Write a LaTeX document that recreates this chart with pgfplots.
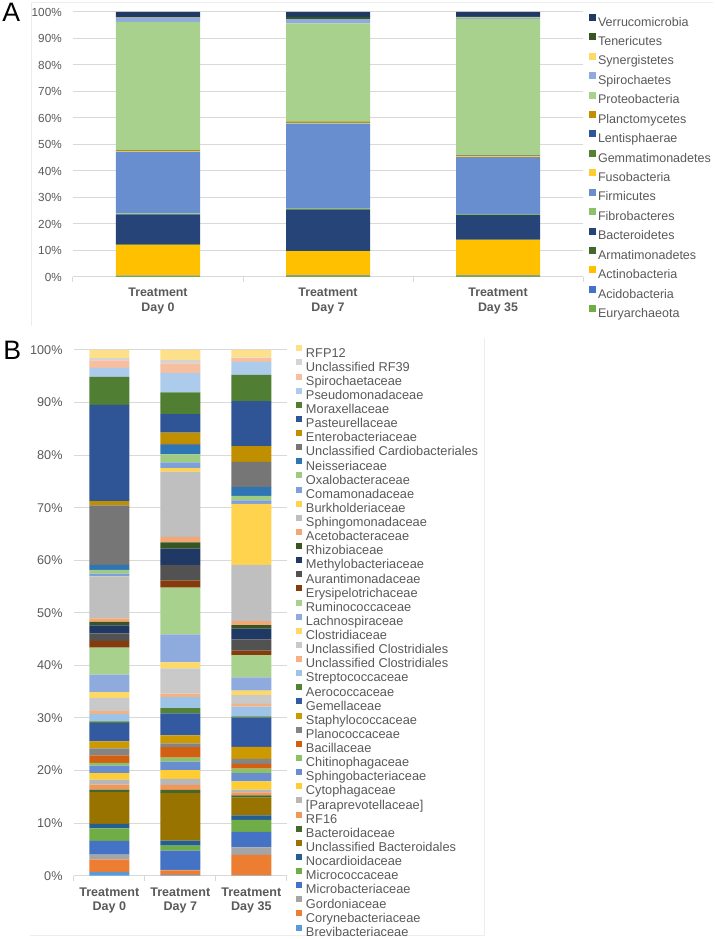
\documentclass[border=0pt]{standalone}
\usepackage{pgfplots}
\pgfplotsset{compat=1.18}
\usepackage{fontspec}
\setmainfont{Liberation Sans}
\definecolor{txt}{HTML}{595959}
\definecolor{gridc}{HTML}{D9D9D9}
\definecolor{framec}{HTML}{EDEDED}
% panel A
\definecolor{cA1}{HTML}{70AD47}
\definecolor{cA2}{HTML}{4472C4}
\definecolor{cA3}{HTML}{FFC000}
\definecolor{cA4}{HTML}{43682B}
\definecolor{cA5}{HTML}{264478}
\definecolor{cA6}{HTML}{8CC168}
\definecolor{cA7}{HTML}{698ED0}
\definecolor{cA8}{HTML}{FFCD33}
\definecolor{cA9}{HTML}{548235}
\definecolor{cA10}{HTML}{2F5597}
\definecolor{cA11}{HTML}{BF9000}
\definecolor{cA12}{HTML}{A9D18E}
\definecolor{cA13}{HTML}{8FAADC}
\definecolor{cA14}{HTML}{FFD966}
\definecolor{cA15}{HTML}{375623}
\definecolor{cA16}{HTML}{203864}
% panel B
\definecolor{cB1}{HTML}{5B9BD5}
\definecolor{cB2}{HTML}{ED7D31}
\definecolor{cB3}{HTML}{A5A5A5}
\definecolor{cB4}{HTML}{4472C4}
\definecolor{cB5}{HTML}{70AD47}
\definecolor{cB6}{HTML}{255E91}
\definecolor{cB7}{HTML}{997300}
\definecolor{cB8}{HTML}{43682B}
\definecolor{cB9}{HTML}{F1975A}
\definecolor{cB10}{HTML}{B7B7B7}
\definecolor{cB11}{HTML}{FFCD33}
\definecolor{cB12}{HTML}{698ED0}
\definecolor{cB13}{HTML}{8CC168}
\definecolor{cB14}{HTML}{D26012}
\definecolor{cB15}{HTML}{848484}
\definecolor{cB16}{HTML}{CC9A00}
\definecolor{cB17}{HTML}{335AA1}
\definecolor{cB18}{HTML}{548235}
\definecolor{cB19}{HTML}{9DC3E6}
\definecolor{cB20}{HTML}{F4B183}
\definecolor{cB21}{HTML}{C9C9C9}
\definecolor{cB22}{HTML}{FFD966}
\definecolor{cB23}{HTML}{8FAADC}
\definecolor{cB24}{HTML}{A9D18E}
\definecolor{cB25}{HTML}{843C0C}
\definecolor{cB26}{HTML}{525252}
\definecolor{cB27}{HTML}{203864}
\definecolor{cB28}{HTML}{375623}
\definecolor{cB29}{HTML}{F3A775}
\definecolor{cB30}{HTML}{BFBFBF}
\definecolor{cB31}{HTML}{FFD34D}
\definecolor{cB32}{HTML}{7F9FD9}
\definecolor{cB33}{HTML}{9DCB81}
\definecolor{cB34}{HTML}{2E75B6}
\definecolor{cB35}{HTML}{767676}
\definecolor{cB36}{HTML}{BF8F00}
\definecolor{cB37}{HTML}{2F5597}
\definecolor{cB38}{HTML}{507E32}
\definecolor{cB39}{HTML}{ADCBEA}
\definecolor{cB40}{HTML}{F5BFA0}
\definecolor{cB41}{HTML}{D4D4D4}
\definecolor{cB42}{HTML}{FFE08A}
\pgfplotsset{
  sqA/.style={legend image code/.code={\fill[##1] (0pt,0.6pt) rectangle (5.25pt,5.85pt);}},
  sqB/.style={legend image code/.code={\fill[##1] (0pt,1.1pt) rectangle (4.5pt,5.6pt);}},
  excel/.style={
    ybar stacked, scale only axis,
    xmin=-0.5, xmax=2.5, ymin=0, ymax=100,
    axis x line*=bottom, axis y line*=left,
    y axis line style={draw=none},
    x axis line style={gridc, line width=0.75pt},
    ymajorgrids, major grid style={gridc, line width=0.75pt},
    ytick={0,10,...,100},
    yticklabels={0\%,10\%,20\%,30\%,40\%,50\%,60\%,70\%,80\%,90\%,100\%},
    ytick style={draw=none},
    xtick={0,1,2},
    xticklabels={{Treatment\\Day 0},{Treatment\\Day 7},{Treatment\\Day 35}},
    major x tick style={draw=none},
    minor xtick={-0.5,0.5,1.5,2.5},
    minor x tick style={gridc, line width=0.75pt},
    xtick align=outside, minor tick length=3.75pt, major tick length=0pt,
    yticklabel style={text=txt, anchor=east, inner sep=0pt, xshift=-8.25pt},
    xticklabel style={text=txt, align=center, inner sep=0pt, anchor=north},
    legend cell align=left, reverse legend,
  }
}
\newcommand{\barA}[5]{\addplot[fill=#1,draw=none,sqA] coordinates {(0,#2) (1,#3) (2,#4)};\addlegendentry{#5}}
\newcommand{\barB}[5]{\addplot[fill=#1,draw=none,sqB] coordinates {(0,#2) (1,#3) (2,#4)};\addlegendentry{#5}}
\begin{document}
\begin{tikzpicture}[x=0.75pt,y=0.75pt]
\useasboundingbox (0,0) rectangle (715,939);
% faint panel frames
\draw[framec, line width=0.75pt] (31,936) -- (713,936);
\draw[framec, line width=0.75pt] (31,936) -- (31,613);
\draw[framec, line width=0.75pt] (30,3) -- (484,3) -- (484,601);
\node[anchor=base west, inner sep=0pt, font=\fontsize{20}{24}\selectfont] at (2,917) {A};
\node[anchor=base west, inner sep=0pt, font=\fontsize{20}{24}\selectfont] at (3,579) {B};
\begin{axis}[excel,
  at={(54.75pt,496.5pt)}, anchor=south west,
  width=382.5pt, height=198.75pt, bar width=63pt,
  yticklabel style={font=\fontsize{8.8}{10}\selectfont},
  xticklabel style={font=\bfseries\fontsize{9.3}{11.25}\selectfont, yshift=-8.25pt},
  legend style={at={(1.0118,1.0000)}, anchor=north west, draw=none, fill=none,
    inner sep=0pt, outer sep=0pt, row sep=0pt,
    font=\fontsize{9.4}{11}\selectfont, text=txt,
    nodes={inner sep=0pt, text height=10.6pt, text depth=3.97pt},
    /tikz/every odd column/.append style={column sep=1.5pt}},
]
\barA{cA1}{0.3}{0.4}{0.4}{Euryarchaeota}
\barA{cA2}{0.2}{0.2}{0.2}{Acidobacteria}
\barA{cA3}{11.6}{9.2}{13.4}{Actinobacteria}
\barA{cA4}{0.1}{0.1}{0.1}{Armatimonadetes}
\barA{cA5}{11.4}{15.6}{9.3}{Bacteroidetes}
\barA{cA6}{0.4}{0.5}{0.4}{Fibrobacteres}
\barA{cA7}{23.2}{31.9}{21.4}{Firmicutes}
\barA{cA8}{0.3}{0.3}{0.4}{Fusobacteria}
\barA{cA9}{0.1}{0.1}{0.1}{Gemmatimonadetes}
\barA{cA10}{0.1}{0.1}{0.1}{Lentisphaerae}
\barA{cA11}{0.2}{0.3}{0.2}{Planctomycetes}
\barA{cA12}{48.4}{37.0}{51.4}{Proteobacteria}
\barA{cA13}{1.5}{1.6}{0.6}{Spirochaetes}
\barA{cA14}{0.05}{0.0}{0.1}{Synergistetes}
\barA{cA15}{0.15}{0.9}{0.3}{Tenericutes}
\barA{cA16}{2.0}{1.8}{1.6}{Verrucomicrobia}
\end{axis}
\begin{axis}[excel,
  at={(55.35pt,47.475pt)}, anchor=south west,
  width=159.75pt, height=394.275pt, bar width=30pt,
  yticklabel style={font=\fontsize{9.5}{11}\selectfont},
  xticklabel style={font=\bfseries\fontsize{9.4}{10.7}\selectfont, yshift=-9.1pt},
  legend style={at={(1.0432,1.0089)}, anchor=north west, draw=none, fill=none,
    inner sep=0pt, outer sep=0pt, row sep=0pt,
    font=\fontsize{9.6}{11}\selectfont, text=txt,
    nodes={inner sep=0pt, text height=8.2pt, text depth=1.79pt},
    /tikz/every odd column/.append style={column sep=3pt}},
]
\barB{cB1}{0.75}{0.15}{0.05}{Brevibacteriaceae}
\barB{cB2}{2.31}{0.87}{3.90}{Corynebacteriaceae}
\barB{cB3}{0.95}{0.08}{1.46}{Gordoniaceae}
\barB{cB4}{2.61}{3.68}{2.93}{Microbacteriaceae}
\barB{cB5}{2.36}{0.95}{2.30}{Micrococcaceae}
\barB{cB6}{0.89}{0.96}{0.83}{Nocardioidaceae}
\barB{cB7}{6.05}{9.04}{3.37}{Unclassified Bacteroidales}
\barB{cB8}{0.45}{0.58}{0.45}{Bacteroidaceae}
\barB{cB9}{0.96}{0.95}{0.57}{RF16}
\barB{cB10}{0.95}{1.15}{0.51}{[Paraprevotellaceae]}
\barB{cB11}{1.21}{1.65}{1.59}{Cytophagaceae}
\barB{cB12}{1.47}{1.66}{1.53}{Sphingobacteriaceae}
\barB{cB13}{0.50}{0.76}{0.89}{Chitinophagaceae}
\barB{cB14}{1.41}{1.98}{0.89}{Bacillaceae}
\barB{cB15}{1.33}{0.70}{0.96}{Planococcaceae}
\barB{cB16}{1.34}{1.53}{2.29}{Staphylococcaceae}
\barB{cB17}{3.52}{4.19}{5.54}{Gemellaceae}
\barB{cB18}{0.31}{1.01}{0.25}{Aerococcaceae}
\barB{cB19}{1.38}{2.07}{1.83}{Streptococcaceae}
\barB{cB20}{0.57}{0.69}{0.56}{Unclassified Clostridiales}
\barB{cB21}{2.52}{4.78}{1.64}{Unclassified Clostridiales}
\barB{cB22}{1.07}{1.14}{0.88}{Clostridiaceae}
\barB{cB23}{3.33}{5.34}{2.52}{Lachnospiraceae}
\barB{cB24}{5.16}{8.87}{4.21}{Ruminococcaceae}
\barB{cB25}{1.25}{1.38}{0.88}{Erysipelotrichaceae}
\barB{cB26}{1.45}{2.96}{2.14}{Aurantimonadaceae}
\barB{cB27}{1.51}{3.08}{2.01}{Methylobacteriaceae}
\barB{cB28}{0.69}{1.20}{0.69}{Rhizobiaceae}
\barB{cB29}{0.63}{1.07}{0.76}{Acetobacteraceae}
\barB{cB30}{7.99}{12.39}{10.69}{Sphingomonadaceae}
\barB{cB31}{0.08}{0.69}{11.63}{Burkholderiaceae}
\barB{cB32}{0.48}{1.07}{0.63}{Comamonadaceae}
\barB{cB33}{0.70}{1.51}{0.88}{Oxalobacteraceae}
\barB{cB34}{0.94}{1.79}{1.64}{Neisseriaceae}
\barB{cB35}{11.32}{0.20}{4.84}{Unclassified Cardiobacteriales}
\barB{cB36}{0.82}{2.16}{2.99}{Enterobacteriaceae}
\barB{cB37}{18.32}{3.52}{8.56}{Pasteurellaceae}
\barB{cB38}{5.31}{4.15}{4.98}{Moraxellaceae}
\barB{cB39}{1.72}{3.64}{2.49}{Pseudomonadaceae}
\barB{cB40}{1.41}{1.85}{0.71}{Spirochaetaceae}
\barB{cB41}{0.45}{0.64}{0.10}{Unclassified RF39}
\barB{cB42}{1.53}{1.92}{1.43}{RFP12}
\end{axis}
\end{tikzpicture}
\end{document}
